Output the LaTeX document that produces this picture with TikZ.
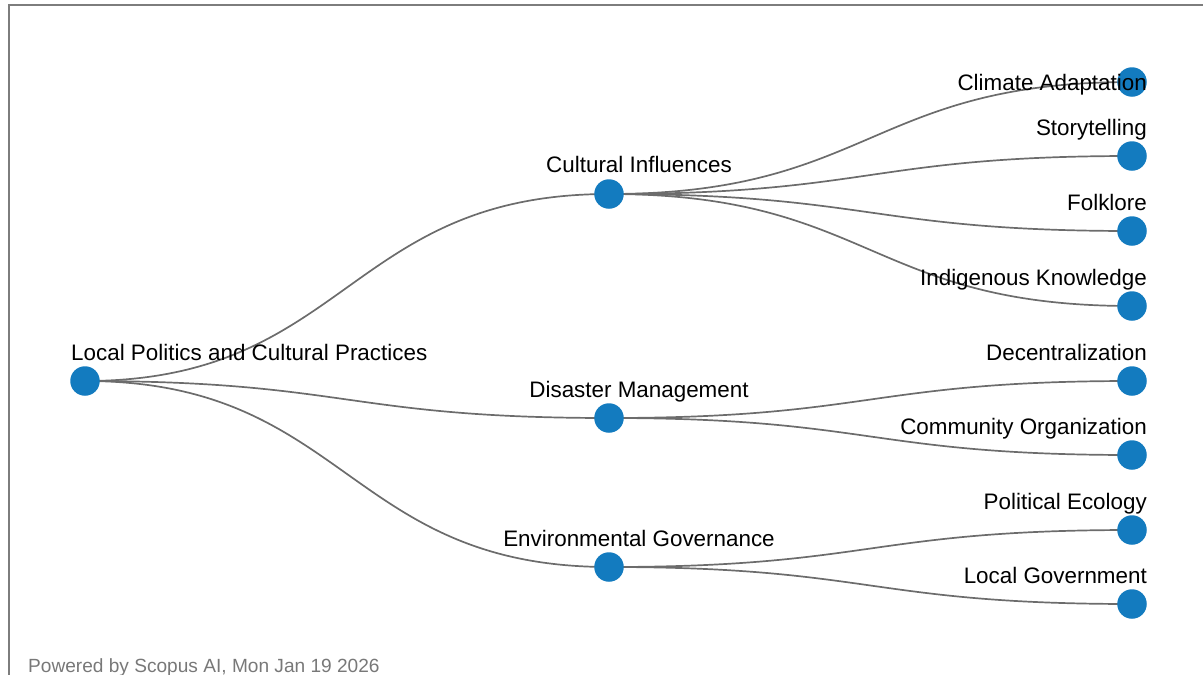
\documentclass[tikz,border=0pt]{standalone}
\usepackage{fontspec}
\setmainfont{Liberation Sans}
\usetikzlibrary{backgrounds,calc}

\definecolor{topicblue}{RGB}{19,123,191}
\definecolor{linkgray}{RGB}{108,108,108}
\definecolor{framegray}{RGB}{125,125,125}
\definecolor{footgray}{RGB}{120,120,120}

\tikzset{
    topic/.style={circle, fill=topicblue, minimum size=29.5pt, inner sep=0pt},
    lbl/.style={font=\fontsize{22.4}{26}\selectfont, inner sep=0pt, anchor=base},
    link/.style={draw=linkgray, line width=1.7pt},
}

\begin{document}
\begin{tikzpicture}[x=1pt, y=-1pt]
    \useasboundingbox (0,0) rectangle (1203,675);

    % curved link, control points half way across
    \def\link#1#2{%
        \draw[link] (#1.center) .. controls ($(#1.center)+(262,0)$) and ($(#2.center)-(262,0)$) .. (#2.center);
    }

    % frame, cut at the top and right
    \draw[framegray, line width=2pt] (9,675) -- (9,5) -- (1203,5);

    % root
    \node[topic] (root) at (85,381) {};
    \node[lbl, anchor=base west] (root-lbl) at (71,360) {Local Politics and Cultural Practices};

    % first level
    \node[topic] (culture) at (609,194) {};
    \node[topic] (disaster) at (609,418) {};
    \node[topic] (envgov) at (609,567) {};
    \node[lbl] (culture-lbl) at (639,172) {Cultural Influences};
    \node[lbl] (disaster-lbl) at (639,397) {Disaster Management};
    \node[lbl] (envgov-lbl) at (639,546) {Environmental Governance};

    % leaves
    \node[topic] (climate) at (1132,82) {};
    \node[topic] (story) at (1132,156) {};
    \node[topic] (folk) at (1132,231) {};
    \node[topic] (indig) at (1132,306) {};
    \node[topic] (decent) at (1132,381) {};
    \node[topic] (commorg) at (1132,455) {};
    \node[topic] (polecol) at (1132,530) {};
    \node[topic] (localgov) at (1132,604) {};

    \node[lbl, anchor=base east] (climate-lbl) at (1147,90) {Climate Adaptation};
    \node[lbl, anchor=base east] (story-lbl) at (1147,135) {Storytelling};
    \node[lbl, anchor=base east] (folk-lbl) at (1147,210) {Folklore};
    \node[lbl, anchor=base east] (indig-lbl) at (1147,285) {Indigenous Knowledge};
    \node[lbl, anchor=base east] (decent-lbl) at (1147,360) {Decentralization};
    \node[lbl, anchor=base east] (commorg-lbl) at (1147,434) {Community Organization};
    \node[lbl, anchor=base east] (polecol-lbl) at (1147,509) {Political Ecology};
    \node[lbl, anchor=base east] (localgov-lbl) at (1147,583) {Local Government};

    \begin{scope}[on background layer]
        \link{root}{culture}
        \link{root}{disaster}
        \link{root}{envgov}

        \link{culture}{climate}
        \link{culture}{story}
        \link{culture}{folk}
        \link{culture}{indig}

        \link{disaster}{decent}
        \link{disaster}{commorg}

        \link{envgov}{polecol}
        \link{envgov}{localgov}
    \end{scope}

    % footer
    \node[font=\fontsize{19.1}{21}\selectfont, text=footgray, inner sep=0pt, anchor=base west] (footer) at (28,672) {Powered by Scopus AI, Mon Jan 19 2026};
\end{tikzpicture}
\end{document}
